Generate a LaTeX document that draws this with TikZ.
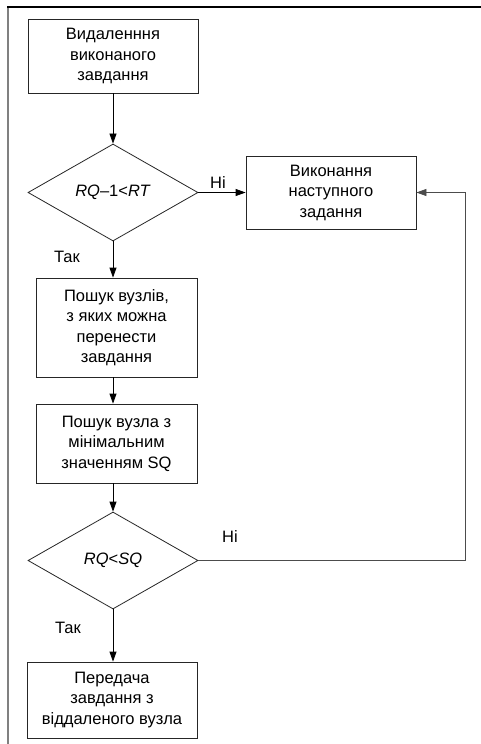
\documentclass[tikz,border=0pt]{standalone}
\usepackage{fontspec}
\setmainfont{Liberation Sans}
\usetikzlibrary{shapes.geometric,arrows.meta}

\begin{document}
\begin{tikzpicture}[x=1pt,y=-1pt,
        txt/.style={font=\fontsize{16.5}{20.5}\selectfont},
        block/.style={txt,draw=black!85,line width=0.8pt,align=center,inner sep=0pt},
        decision/.style={txt,draw=black!85,diamond,line width=0.8pt,inner sep=0pt,minimum width=170pt,minimum height=97pt},
        flow/.style={-{Triangle[length=10pt,width=7pt]},line width=0.8pt}]
            % \draw[help lines] grid(481,744);
            \useasboundingbox (0,0) rectangle (481,744);

            \draw[draw=none,fill=white] (0,0) rectangle (481,744);
            \draw[gray,line width=1.6pt] (8,744) -- (8,7);
            \draw[line width=1.8pt] (7.2,7) -- (481,7);

            \node[block,minimum width=170pt,minimum height=74pt] (del) at (113,56) {Видаленння\\виконаного\\завдання};
            \node[decision] (cond1) at (113,192.5) {\textit{RQ}–1<\textit{RT}};
            \node[block,minimum width=170pt,minimum height=73pt] (next) at (331,192.5) {Виконання\\наступного\\задання};
            \node[block,minimum width=161pt,minimum height=99pt] (search) at (116.5,327.5) {Пошук вузлів,\\з яких можна\\перенести\\завдання};
            \node[block,minimum width=161pt,minimum height=79pt] (minsq) at (116.5,443.5) {Пошук вузла з\\мінімальним\\значенням SQ};
            \node[decision] (cond2) at (113,560.5) {\textit{RQ}<\textit{SQ}};
            \node[block,minimum width=170pt,minimum height=76pt] (send) at (112,700) {Передача\\завдання з\\віддаленого вузла};

            \node[txt] (no1) at (218,183) {Ні};
            \node[txt] (yes1) at (67,257) {Так};
            \node[txt] (no2) at (230,537) {Ні};
            \node[txt] (yes2) at (68,628) {Так};

            \draw[flow] (del) -- (cond1);
            \draw[flow] (cond1) -- (next);
            \draw[flow] (cond1.south) -- (cond1.south |- search.north);
            \draw[flow] (search.south -| cond1.south) -- (minsq.north -| cond1.south);
            \draw[flow] (minsq.south -| cond2.north) -- (cond2.north);
            \draw[flow] (cond2.south) -- (cond2.south |- send.north);
            \coordinate (loop) at (465,560.5);
            \draw[flow,draw=black!70] (cond2.east) -- (loop) |- (next.east);
        \end{tikzpicture}
\end{document}
